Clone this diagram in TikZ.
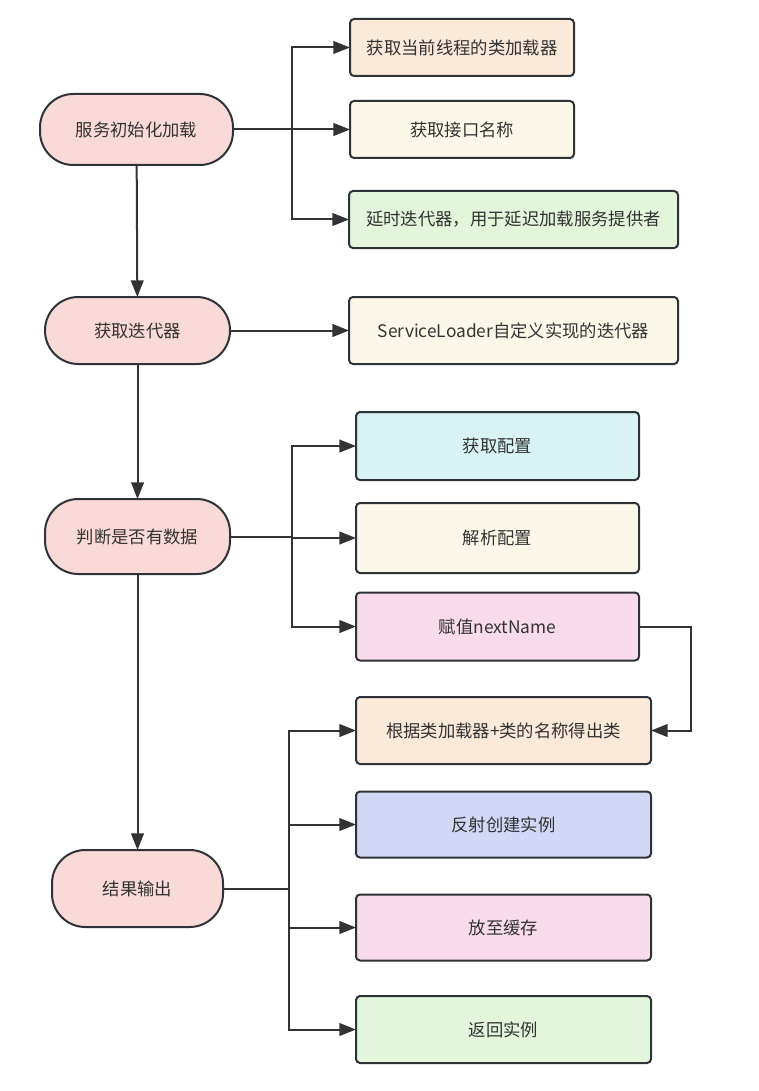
\documentclass[tikz,border=0pt]{standalone}
\usepackage{fontspec}
\setmainfont{Noto Sans CJK SC}
\usetikzlibrary{arrows.meta}

\definecolor{c333333}{RGB}{51,51,51}
\definecolor{c2e3338}{RGB}{46,51,56}
\definecolor{cfad9d5}{RGB}{250,218,216}
\definecolor{cfbe9da}{RGB}{251,233,218}
\definecolor{cfcf8e9}{RGB}{252,248,233}
\definecolor{ce3f5db}{RGB}{227,245,219}
\definecolor{cd9f3f4}{RGB}{217,243,244}
\definecolor{cf9dbeb}{RGB}{249,219,235}
\definecolor{cd3d7f6}{RGB}{211,215,246}

\tikzset{
  stadium/.style={draw=c2e3338,fill=cfad9d5,line width=1.5pt,rounded corners=25pt,
    text=c333333,font=\fontsize{13}{15}\selectfont},
  stepbox/.style={draw=c2e3338,line width=1.5pt,rounded corners=3pt,
    text=c333333,font=\fontsize{13}{15}\selectfont},
  link/.style={draw=c333333,line width=1.5pt,-{Triangle[length=12.5pt,width=9.5pt]}},
  plainlink/.style={draw=c333333,line width=1.5pt}
}

\begin{document}
\begin{tikzpicture}[y=-0.75pt, x=0.75pt, inner sep=0pt, outer sep=0pt]

  \useasboundingbox (0,0) rectangle (759,1091);

  % left column
  \path (136.5,129.5) node[stadium,minimum width=144.75pt,minimum height=53.25pt]
    (rect3010) {服务初始化加载};
  \path (137.5,330.5) node[stadium,minimum width=138.75pt,minimum height=50.25pt]
    (rect3012) {获取迭代器};
  \path (137.5,536.5) node[stadium,minimum width=138.75pt,minimum height=56.25pt]
    (rect3014) {判断是否有数据};
  \path (137.5,888.5) node[stadium,minimum width=128.25pt,minimum height=57.75pt]
    (rect3016) {结果输出};

  % right column
  \path (462,47.5) node[stepbox,fill=cfbe9da,minimum width=168pt,minimum
    height=42.75pt] (rect3020) {获取当前线程的类加载器};
  \path (462,129.5) node[stepbox,fill=cfcf8e9,minimum width=168pt,minimum
    height=42.75pt] (rect3022) {获取接口名称};
  \path (513.5,219.5) node[stepbox,fill=ce3f5db,minimum width=246.75pt,minimum
    height=42.75pt] (rect3024) {延时迭代器，用于延迟加载服务提供者};
  \path (513.5,330.5) node[stepbox,fill=cfcf8e9,minimum width=246.75pt,minimum
    height=50.25pt] (rect3026) {ServiceLoader自定义实现的迭代器};
  \path (497.5,446) node[stepbox,fill=cd9f3f4,minimum width=212.25pt,minimum
    height=51pt] (rect3028) {获取配置};
  \path (497.5,538) node[stepbox,fill=cfcf8e9,minimum width=212.25pt,minimum
    height=52.5pt] (rect3030) {解析配置};
  \path (497.5,626.5) node[stepbox,fill=cf9dbeb,minimum width=212.25pt,minimum
    height=51pt] (rect3032) {赋值nextName};
  \path (503.5,730.5) node[stepbox,fill=cfbe9da,minimum width=221.25pt,minimum
    height=50.25pt] (rect3034) {根据类加载器+类的名称得出类};
  \path (503.5,824.5) node[stepbox,fill=cd3d7f6,minimum width=221.25pt,minimum
    height=49.5pt] (rect3036) {反射创建实例};
  \path (503.5,927.5) node[stepbox,fill=cf9dbeb,minimum width=221.25pt,minimum
    height=49.5pt] (rect3038) {放至缓存};
  \path (503.5,1029.5) node[stepbox,fill=ce3f5db,minimum width=221.25pt,minimum
    height=50.25pt] (rect3040) {返回实例};

  % forks
  \coordinate (fork3050) at (292,129.5);
  \coordinate (fork3052) at (292,536.5);
  \coordinate (fork3054) at (289,888.5);

  % connectors
  \draw[link] (rect3010) -- (rect3012);
  \draw[link] (rect3012) -- (rect3014);
  \draw[link] (rect3014) -- (rect3016);

  \draw[link] (rect3010.east) -- (rect3022.west);
  \draw[link] (fork3050) |- (rect3020.west);
  \draw[link] (fork3050) |- (rect3024.west);

  \draw[link] (rect3012.east) -- (rect3026.west);

  \draw[plainlink] (rect3014.east) -- (fork3052);
  \draw[link] (fork3052) |- (rect3028.west);
  \draw[link] (fork3052) |- (rect3030.west);
  \draw[link] (fork3052) |- (rect3032.west);

  \draw[link] (rect3032.east) -- ++(51.5,0) |- (rect3034.east);

  \draw[plainlink] (rect3016.east) -- (fork3054);
  \draw[link] (fork3054) |- (rect3034.west);
  \draw[link] (fork3054) |- (rect3036.west);
  \draw[link] (fork3054) |- (rect3038.west);
  \draw[link] (fork3054) |- (rect3040.west);

\end{tikzpicture}
\end{document}
